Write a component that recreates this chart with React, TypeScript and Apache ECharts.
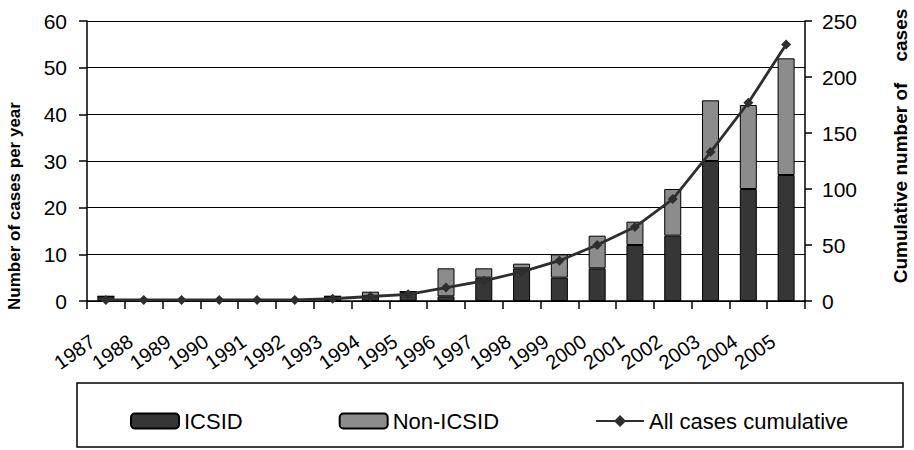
import React, { useEffect, useRef } from "react";
import * as echarts from "echarts";

const years = ["1987","1988","1989","1990","1991","1992","1993","1994","1995","1996","1997","1998","1999","2000","2001","2002","2003","2004","2005"];
const icsid = [1,0,0,0,0,0,1,1,2,1,5,7,5,7,12,14,30,24,27];
const nonIcsid = [0,0,0,0,0,0,0,1,0,6,2,1,5,7,5,10,13,18,25];
const cumulative = [1,1,1,1,1,1,2,4,6,12,18,26,36,50,66,91,133,177,229];
const leftTitle = "Number of cases per year";
const rightTitle = "Cumulative number of\u00A0\u00A0\u00A0\u00A0cases";

const FONT = '"Liberation Sans", Arial, sans-serif';

export default function App() {
  const ref = useRef<HTMLDivElement>(null);
  useEffect(() => {
    document.body.style.margin = "0";
    const chart = echarts.init(ref.current!, null, { renderer: "svg" });
    chart.setOption({
      animation: false,
      backgroundColor: "#fff",
      textStyle: { fontFamily: FONT, color: "#000" },
      grid: { left: 87, right: 109, top: 21, bottom: 149, containLabel: false, outerBoundsMode: "none" },
      legend: {
        left: 125,
        top: 405,
        itemWidth: 48,
        itemHeight: 15,
        itemGap: 96,
        textStyle: { fontSize: 22, color: "#000", fontFamily: FONT },
        data: [
          { name: "ICSID" },
          { name: "Non-ICSID" },
          { name: "All cases cumulative" },
        ],
      },
      xAxis: {
        type: "category",
        data: years,
        boundaryGap: true,
        axisLine: { lineStyle: { color: "#000", width: 1.5 } },
        axisTick: { show: true, length: 8, lineStyle: { color: "#000", width: 1.5 } },
        axisLabel: {
          rotate: 35,
          fontSize: 20,
          color: "#000",
          fontFamily: FONT,
          margin: 29,
          padding: [0, 16, 0, 0],
          interval: 0,
        },
      },
      yAxis: [
        {
          type: "value",
          min: 0,
          max: 60,
          interval: 10,
          axisLine: { show: true, lineStyle: { color: "#000", width: 1.5 } },
          axisTick: { show: true, length: 8, lineStyle: { color: "#000", width: 1.5 } },
          axisLabel: { fontSize: 21, color: "#000", margin: 20, fontFamily: FONT },
          splitLine: { show: true, lineStyle: { color: "#000", width: 1.2 } },
        },
        {
          type: "value",
          position: "right",
          min: 0,
          max: 250,
          interval: 50,
          axisLine: { show: true, lineStyle: { color: "#000", width: 1.5 } },
          axisTick: { show: true, length: 7, lineStyle: { color: "#000", width: 1.5 } },
          axisLabel: { fontSize: 21, color: "#000", margin: 17, fontFamily: FONT },
          splitLine: { show: false },
        },
      ],
      series: [
        {
          name: "ICSID",
          type: "bar",
          stack: "cases",
          data: icsid,
          barWidth: 17,
          itemStyle: { color: "#363636", borderColor: "#000", borderWidth: 1 },
        },
        {
          name: "Non-ICSID",
          type: "bar",
          stack: "cases",
          data: nonIcsid,
          barWidth: 17,
          itemStyle: { color: "#8c8c8c", borderColor: "#000", borderWidth: 1 },
        },
        {
          name: "All cases cumulative",
          type: "line",
          yAxisIndex: 1,
          data: cumulative,
          symbol: "diamond",
          symbolSize: 10,
          lineStyle: { color: "#2e2e2e", width: 2.8 },
          itemStyle: { color: "#2e2e2e" },
          z: 5,
        },
      ],
      graphic: [
        {
          type: "rect",
          shape: { x: 77, y: 383, width: 826, height: 64 },
          style: { fill: "none", stroke: "#000", lineWidth: 1.5 },
          silent: true,
        },
        {
          type: "text",
          x: 14,
          y: 206,
          rotation: Math.PI / 2,
          style: { text: leftTitle, font: `bold 17px ${FONT}`, fill: "#000", align: "center", verticalAlign: "middle" },
        },
        {
          type: "text",
          x: 900,
          y: 146,
          rotation: Math.PI / 2,
          style: { text: rightTitle, font: `bold 19px ${FONT}`, fill: "#000", align: "center", verticalAlign: "middle" },
        },
      ],
    });
    return () => chart.dispose();
  }, []);
  return <div ref={ref} style={{ width: 914, height: 450 }} />;
}
